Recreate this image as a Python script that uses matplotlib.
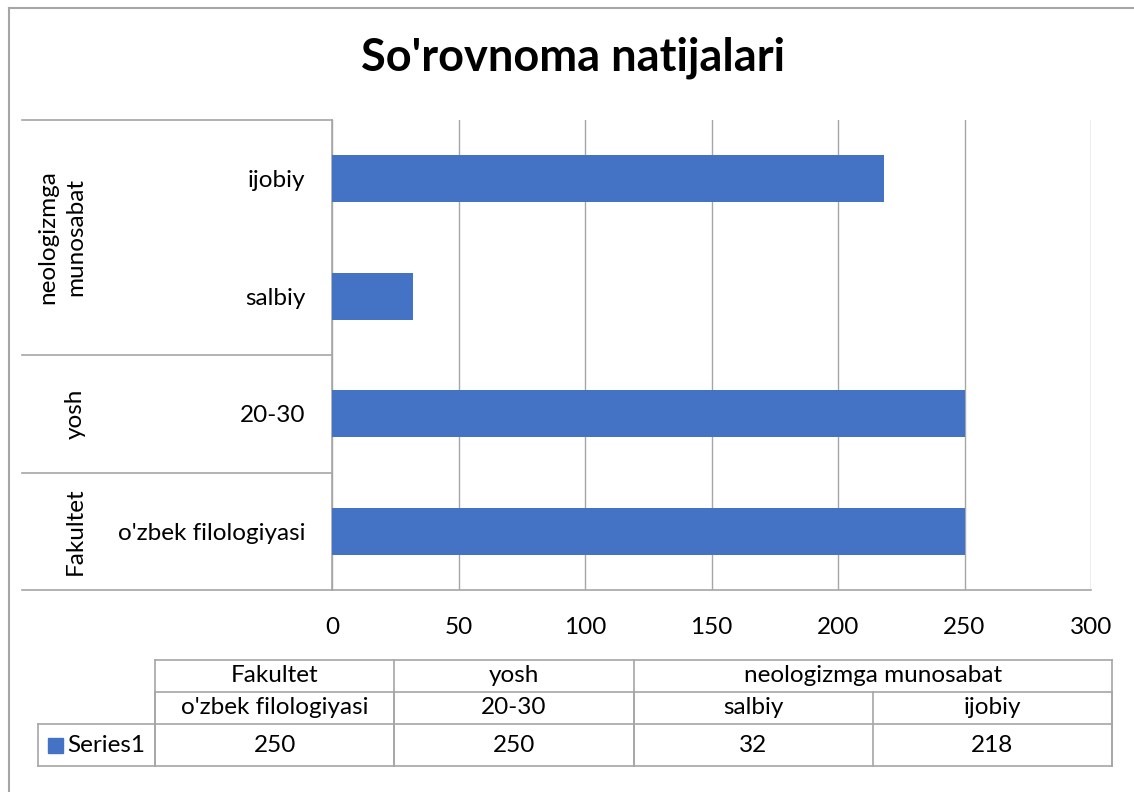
import matplotlib.pyplot as plt
from matplotlib.lines import Line2D
from matplotlib.patches import Rectangle
from matplotlib.transforms import blended_transform_factory

# data
groups = ["Fakultet", "yosh", "neologizmga munosabat"]
group_labels = ["Fakultet", "yosh", "neologizmga\nmunosabat"]
group_sizes = [1, 1, 2]
categories = ["o'zbek filologiyasi", "20-30", "salbiy", "ijobiy"]
values = [250, 250, 32, 218]
series_name = "Series1"
xticks = [0, 50, 100, 150, 200, 250, 300]

BAR = "#4472C4"
GRID = "#a6a6a6"
W, H = 1134, 792
FS = 17.5

plt.rcParams['font.family'] = ['Lato', 'DejaVu Sans']
fig = plt.figure(figsize=(W / 100, H / 100), dpi=100)


def px_rect(x0, y0, x1, y1):
    # pixel box (top-left origin) -> figure fraction rect
    return [x0 / W, 1 - y1 / H, (x1 - x0) / W, (y1 - y0) / H]


# outer chart border (only left and top are visible in the crop)
fig.add_artist(Line2D([9 / W, 9 / W], [0, 1 - 8 / H], color=GRID, lw=1.5))
fig.add_artist(Line2D([9 / W, 1], [1 - 8 / H, 1 - 8 / H], color=GRID, lw=1.5))

fig.text(573 / W, 1 - 58 / H, "So'rovnoma natijalari", ha='center', va='center',
         fontsize=32.5, fontweight='bold')

# main bar chart
ax = fig.add_axes(px_rect(332, 120, 1091, 590))
ypos = list(range(len(categories)))
ax.barh(ypos, values, height=0.4, color=BAR, zorder=3)
ax.set_xlim(xticks[0], xticks[-1])
ax.set_ylim(-0.5, len(categories) - 0.5)
ax.set_xticks(xticks)
ax.set_yticks(ypos)
ax.set_yticklabels(categories)
ax.tick_params(axis='both', length=0, labelsize=FS)
ax.tick_params(axis='y', pad=19)
ax.tick_params(axis='x', pad=19.5)
ax.grid(axis='x', color=GRID, lw=1, zorder=0)
for s in ['top', 'right']:
    ax.spines[s].set_visible(False)
for s in ['left', 'bottom']:
    ax.spines[s].set_color(GRID)
    ax.spines[s].set_linewidth(1.2)

# multi-level category axis
cat_left = (22 - 332) / 759
trans = blended_transform_factory(ax.transAxes, ax.transData)
edges = [-0.5]
for n in group_sizes:
    edges.append(edges[-1] + n)
for e in edges:
    ax.add_line(Line2D([cat_left, 0], [e, e], transform=trans, color=GRID,
                       lw=1.2, clip_on=False))
for lab, lo, hi in zip(group_labels, edges[:-1], edges[1:]):
    ax.text((86 - 332) / 759, (lo + hi) / 2, lab, transform=trans, rotation=90,
            ha='right', va='center', multialignment='center', fontsize=FS,
            linespacing=1.4)

# data table under the chart
tab = fig.add_axes(px_rect(155, 660, 1112, 766))
row_edges = [0, 32, 64, 106]
tab.set_xlim(0, len(categories))
tab.set_ylim(row_edges[-1], 0)
tab.axis('off')
col_w = 239.25
leg_left = (38 - 155) / col_w


def hline(x0, x1, y):
    tab.add_line(Line2D([x0, x1], [y, y], color=GRID, lw=1.2, clip_on=False))


def vline(x, y0, y1):
    tab.add_line(Line2D([x, x], [y0, y1], color=GRID, lw=1.2, clip_on=False))


hline(0, len(categories), row_edges[0])
hline(0, len(categories), row_edges[1])
hline(leg_left, len(categories), row_edges[2])
hline(leg_left, len(categories), row_edges[3])
vline(leg_left, row_edges[2], row_edges[3])
for g in range(len(group_sizes) + 1):
    vline(sum(group_sizes[:g]), row_edges[0], row_edges[3])
for i in range(len(categories) + 1):
    vline(i, row_edges[1], row_edges[3])

start = 0
for name, n in zip(groups, group_sizes):
    tab.text(start + n / 2, (row_edges[0] + row_edges[1]) / 2, name,
             ha='center', va='center', fontsize=FS)
    start += n
for i, (c, v) in enumerate(zip(categories, values)):
    tab.text(i + 0.5, (row_edges[1] + row_edges[2]) / 2, c,
             ha='center', va='center', fontsize=FS)
    tab.text(i + 0.5, (row_edges[2] + row_edges[3]) / 2 + 1, str(v),
             ha='center', va='center', fontsize=FS)

ymid = (row_edges[2] + row_edges[3]) / 2
tab.add_patch(Rectangle(((48 - 155) / col_w, ymid - 7.5), 15 / col_w, 15,
                        color=BAR, clip_on=False))
tab.text((67 - 155) / col_w, ymid, series_name, ha='left', va='center', fontsize=FS)

fig.savefig("out.png", dpi=100)
